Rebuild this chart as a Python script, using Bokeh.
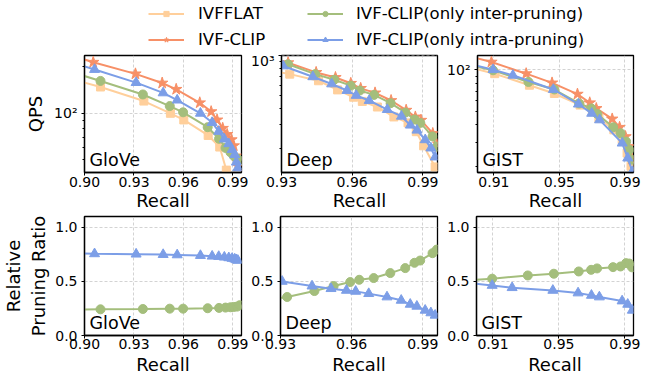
from bokeh.plotting import figure
from bokeh.layouts import column, row
from bokeh.models import FixedTicker, NumeralTickFormatter, Label, Legend, LegendItem
from bokeh.embed import file_html
from bokeh.resources import INLINE

FONT = "DejaVu Sans"

# ---------------- data ----------------
series = ["IVFFLAT", "IVF-CLIP", "IVF-CLIP(only inter-pruning)", "IVF-CLIP(only intra-pruning)"]
datasets = ["GloVe", "Deep", "GIST"]

# GloVe
glove_flat_recall = [0.885, 0.9097, 0.936, 0.9521, 0.9602, 0.975, 0.982, 0.986]
glove_flat_qps = [175, 148, 120, 100, 90.6, 71.9, 60.5, 42.9]
glove_clip_recall = [0.885, 0.9053, 0.9309, 0.9471, 0.9556, 0.9699, 0.9768, 0.9804, 0.9838, 0.9865, 0.9891, 0.9905, 0.9917, 0.993]
glove_clip_qps = [250, 214, 180, 157, 143, 117, 102.5, 90.6, 80, 73, 67.5, 61.7, 53, 45.5]
glove_inter_recall = [0.885, 0.9097, 0.9354, 0.9517, 0.9598, 0.9747, 0.9816, 0.9855, 0.9885, 0.9905, 0.9925, 0.9941]
glove_inter_qps = [195, 162, 132.4, 111.4, 101.5, 81.3, 68.4, 59.7, 56, 53, 51, 49.5]
glove_inter_ratio = [0.237, 0.242, 0.245, 0.248, 0.248, 0.252, 0.255, 0.258, 0.261, 0.264, 0.267, 0.28]
glove_intra_recall = [0.885, 0.9061, 0.9313, 0.9477, 0.9562, 0.9703, 0.9774, 0.9814, 0.9848, 0.9875, 0.9895, 0.9911, 0.9921, 0.993]
glove_intra_qps = [225, 192, 158, 135.5, 121.7, 100, 87.1, 76.3, 68.1, 63.5, 58.2, 54, 48.3, 44.4]
glove_intra_ratio = [0.765, 0.755, 0.752, 0.748, 0.745, 0.739, 0.733, 0.73, 0.724, 0.718, 0.712, 0.706, 0.70, 0.694]

# Deep
deep_flat_recall = [0.925, 0.9335, 0.9457, 0.9538, 0.9606, 0.9643, 0.9707, 0.9777, 0.9837, 0.9872, 0.9903, 0.9952]
deep_flat_qps = [775, 725, 646, 551, 485, 451, 409, 344, 310, 266, 208, 144]
deep_clip_recall = [0.925, 0.9328, 0.9447, 0.9529, 0.9594, 0.9636, 0.9697, 0.9765, 0.9829, 0.9868, 0.9892, 0.9942, 0.9965]
deep_clip_qps = [955, 885, 747, 684, 618, 566, 523, 458, 387, 344, 325, 258, 215]
deep_inter_recall = [0.925, 0.9328, 0.9443, 0.9524, 0.9594, 0.9632, 0.9693, 0.9763, 0.9826, 0.9865, 0.9889, 0.9941, 0.9959]
deep_inter_qps = [920, 861, 725, 658, 593, 545, 505, 437, 371, 329, 310, 245, 205]
deep_inter_ratio = [0.33, 0.356, 0.411, 0.457, 0.494, 0.515, 0.531, 0.577, 0.623, 0.672, 0.693, 0.761, 0.794]
deep_intra_recall = [0.925, 0.9307, 0.9433, 0.9513, 0.9578, 0.9617, 0.9672, 0.9749, 0.9809, 0.9847, 0.9875, 0.991, 0.9934, 0.9952]
deep_intra_qps = [900, 836, 692, 611, 545, 500, 458, 391, 348, 298, 273, 231, 200, 171]
deep_intra_ratio = [0.51, 0.50, 0.457, 0.433, 0.417, 0.408, 0.387, 0.356, 0.325, 0.288, 0.27, 0.233, 0.209, 0.187]

# GIST
gist_flat_recall = [0.895, 0.9105, 0.9317, 0.9469, 0.9626, 0.9701, 0.9741, 0.9832, 0.9883, 0.9913, 0.9937]
gist_flat_qps = [104, 93.6, 77.3, 67.4, 55.6, 49.9, 44.7, 36.9, 31.3, 25.1, 20.2]
gist_clip_recall = [0.895, 0.9085, 0.9297, 0.9455, 0.961, 0.9685, 0.9725, 0.9822, 0.9867, 0.9903, 0.9923, 0.9943]
gist_clip_qps = [125, 113.5, 93.6, 80.3, 66.7, 57.8, 52.6, 44.2, 38.5, 33, 28, 22.8]
gist_inter_recall = [0.895, 0.9095, 0.9311, 0.9469, 0.962, 0.9695, 0.9731, 0.9828, 0.9873, 0.9907, 0.9927, 0.9943]
gist_inter_qps = [108, 99, 81.6, 72, 57.2, 52.6, 48, 38.5, 34.9, 30.4, 26.5, 22.5]
gist_inter_ratio = [0.51, 0.525, 0.555, 0.571, 0.592, 0.607, 0.62, 0.632, 0.638, 0.669, 0.665, 0.63]
gist_intra_recall = [0.895, 0.9095, 0.9216, 0.9463, 0.9616, 0.9697, 0.9745, 0.9883, 0.9917, 0.9945]
gist_intra_qps = [110, 100, 91.1, 72, 56.5, 48.5, 43.5, 29.6, 23.1, 18.5]
gist_intra_ratio = [0.485, 0.463, 0.442, 0.417, 0.393, 0.371, 0.356, 0.319, 0.288, 0.233]

# axes
x_ranges = {"GloVe": (0.90, 0.9952), "Deep": (0.93, 0.9962), "GIST": (0.90, 0.9952)}
x_ticks = {"GloVe": [0.90, 0.93, 0.96, 0.99], "Deep": [0.93, 0.96, 0.99], "GIST": [0.91, 0.95, 0.99]}
qps_ranges = {"GloVe": (41.4, 236.6), "Deep": (130.7, 1003), "GIST": (18.2, 126.5)}
qps_major = {"GloVe": [100], "Deep": [1000], "GIST": [100]}
qps_major_labels = {100: "10²", 1000: "10³"}
qps_minor = {"GloVe": [50, 60, 70, 80, 90, 200], "Deep": [200, 300, 400, 500, 600, 700, 800, 900],
             "GIST": [20, 30, 40, 50, 60, 70, 80, 90]}
ratio_range = (0, 1.1)
ratio_ticks = [0.0, 0.5, 1.0]

top_data = {
    "GloVe": [(glove_flat_recall, glove_flat_qps), (glove_clip_recall, glove_clip_qps),
              (glove_inter_recall, glove_inter_qps), (glove_intra_recall, glove_intra_qps)],
    "Deep": [(deep_flat_recall, deep_flat_qps), (deep_clip_recall, deep_clip_qps),
             (deep_inter_recall, deep_inter_qps), (deep_intra_recall, deep_intra_qps)],
    "GIST": [(gist_flat_recall, gist_flat_qps), (gist_clip_recall, gist_clip_qps),
             (gist_inter_recall, gist_inter_qps), (gist_intra_recall, gist_intra_qps)],
}
bottom_data = {
    "GloVe": [(glove_inter_recall, glove_inter_ratio), (glove_intra_recall, glove_intra_ratio)],
    "Deep": [(deep_inter_recall, deep_inter_ratio), (deep_intra_recall, deep_intra_ratio)],
    "GIST": [(gist_inter_recall, gist_inter_ratio), (gist_intra_recall, gist_intra_ratio)],
}

# ---------------- style ----------------
colors = ["#FFCF9B", "#F79067", "#A4BE7C", "#7C9EE7"]
markers = ["square", "star", "circle", "triangle"]
msizes = [8, 12, 9, 10]
LW = 2

cols = [(248, 84, 7), (196, 32, 7), (212, 32, 23)]


def style(p, ylabel, top):
    p.outline_line_color = "black"
    p.outline_line_width = 1.3
    for ax in (p.xaxis, p.yaxis):
        ax.axis_line_color = "black"
        ax.axis_line_width = 1.3
        ax.major_tick_line_color = "black"
        ax.minor_tick_line_color = "black"
        ax.major_tick_out = 3
        ax.major_tick_in = 0
        ax.minor_tick_out = 2
        ax.minor_tick_in = 0
        ax.major_label_text_font = FONT
        ax.major_label_text_font_size = "14px"
        ax.major_label_text_color = "black"
        ax.axis_label_text_font = FONT
        ax.axis_label_text_font_size = "18px"
        ax.axis_label_text_font_style = "normal"
        ax.axis_label_text_color = "black"
    p.xaxis.axis_label = "Recall"
    p.xaxis.major_label_standoff = 1 if top else 0
    p.xaxis.axis_label_standoff = 0 if top else 2
    p.yaxis.major_label_standoff = 4
    if ylabel:
        p.yaxis.axis_label = ylabel
        p.yaxis.axis_label_standoff = 5 if top else 3
    for g in (p.xgrid, p.ygrid):
        g.grid_line_color = "#c8c8c8"
        g.grid_line_width = 0.8
        g.grid_line_dash = "3 2"


def make(kind, ci, ds):
    w, mbl, mbr = cols[ci]
    if kind == "top":
        h, mbt, mbb = 163, 5, 40
        yr = qps_ranges[ds]
        p = figure(width=w, height=h, min_border_left=mbl, min_border_right=mbr,
                   min_border_top=mbt, min_border_bottom=mbb, toolbar_location=None,
                   output_backend="svg", x_range=x_ranges[ds], y_range=yr, y_axis_type="log")
        yt = FixedTicker(ticks=qps_major[ds], minor_ticks=qps_minor[ds])
        p.yaxis.ticker = yt
        p.ygrid.ticker = yt
        p.yaxis.major_label_overrides = {k: v for k, v in qps_major_labels.items() if k in qps_major[ds]}
        data = top_data[ds]
        idx = [0, 1, 2, 3]
        ylabel = "QPS" if ci == 0 else None
    else:
        h, mbt, mbb = 164, 3, 42
        p = figure(width=w, height=h, min_border_left=mbl, min_border_right=mbr,
                   min_border_top=mbt, min_border_bottom=mbb, toolbar_location=None,
                   output_backend="svg", x_range=x_ranges[ds], y_range=ratio_range)
        yt = FixedTicker(ticks=ratio_ticks, minor_ticks=[])
        p.yaxis.ticker = yt
        p.ygrid.ticker = yt
        p.yaxis.formatter = NumeralTickFormatter(format="0.0")
        data = bottom_data[ds]
        idx = [2, 3]
        ylabel = "Relative\nPruning Ratio" if ci == 0 else None
    xt = FixedTicker(ticks=x_ticks[ds], minor_ticks=[])
    p.xaxis.ticker = xt
    p.xgrid.ticker = xt
    p.xaxis.formatter = NumeralTickFormatter(format="0.00")
    style(p, ylabel, kind == "top")
    for (xs, ys), i in zip(data, idx):
        p.line(xs, ys, line_color=colors[i], line_width=LW)
        p.scatter(xs, ys, marker=markers[i], size=msizes[i], fill_color=colors[i],
                  line_color=colors[i])
    lab = Label(x=x_ranges[ds][0], y=(qps_ranges[ds][0] if kind == "top" else ratio_range[0]),
                x_offset=5, y_offset=13, text=ds, text_font=FONT, text_font_size="17.5px",
                text_color="black", text_baseline="alphabetic")
    p.add_layout(lab)
    return p


top_row = row([make("top", i, ds) for i, ds in enumerate(datasets)])
bottom_row = row([make("bottom", i, ds) for i, ds in enumerate(datasets)])

# legend figure
lf = figure(width=656, height=50, x_range=(0, 1), y_range=(0, 1), min_border=0,
            toolbar_location=None, output_backend="svg", x_axis_location=None, y_axis_location=None)
lf.outline_line_color = None
lf.xgrid.visible = False
lf.ygrid.visible = False
items = []
for i, name in enumerate(series):
    lr = lf.line([5, 6], [5, 6], line_color=colors[i], line_width=LW)
    sr = lf.scatter([5], [5], marker=markers[i], size=msizes[i], fill_color=colors[i], line_color=colors[i])
    items.append(LegendItem(label=name, renderers=[lr, sr]))

for its, xloc, standoff in ((items[:2], 148, 14), (items[2:], 307, 13)):
    lg = Legend(items=its, location=(xloc, 1), orientation="vertical", spacing=6, padding=0, margin=0,
                glyph_width=36, glyph_height=13, label_height=20, label_standoff=standoff,
                border_line_color=None, background_fill_alpha=0,
                label_text_font=FONT, label_text_font_size="16.5px", label_text_color="black")
    lf.add_layout(lg)

layout = column(lf, top_row, bottom_row)
open("out.html", "w").write(file_html(layout, INLINE))
